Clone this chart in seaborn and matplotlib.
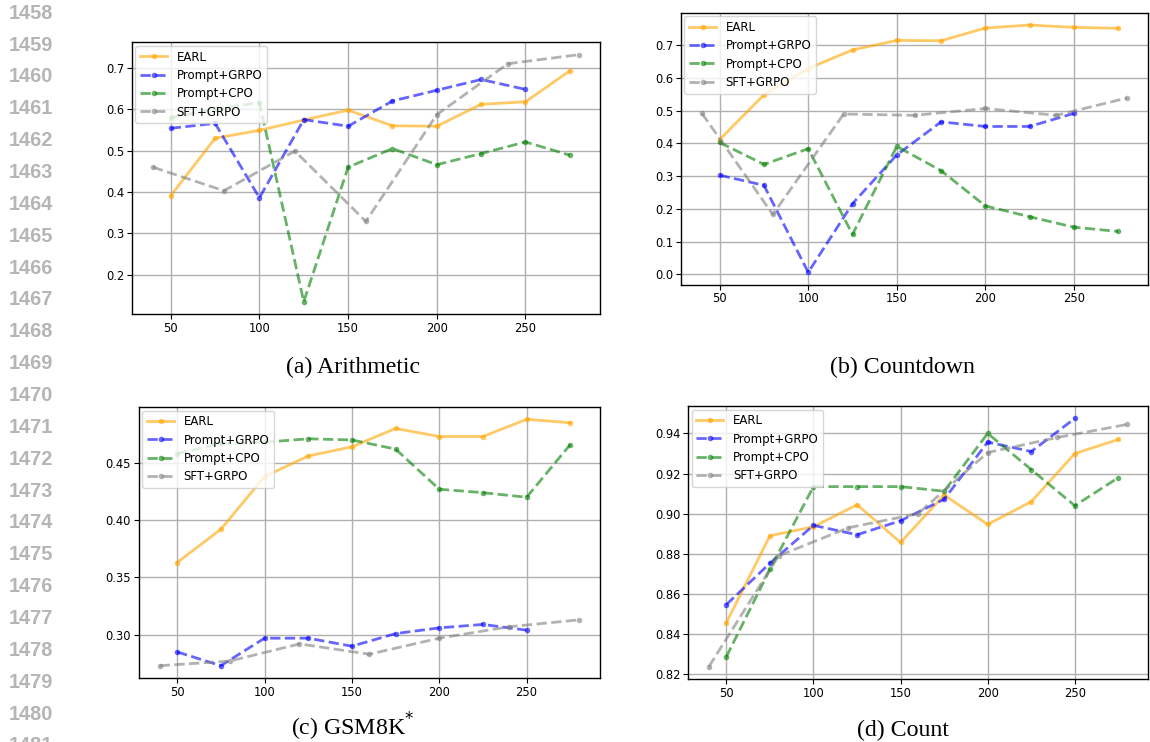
import matplotlib
matplotlib.use("Agg")
import matplotlib.pyplot as plt
import seaborn as sns
import pandas as pd

# passos de treino
x_earl = [50, 75, 100, 125, 150, 175, 200, 225, 250, 275]
x_grpo = [50, 75, 100, 125, 150, 175, 200, 225, 250]
x_cpo = [50, 75, 100, 125, 150, 175, 200, 225, 250, 275]
x_sft = [40, 80, 120, 160, 200, 240, 280]

# (a) Arithmetic
arith_earl = [0.391, 0.530, 0.549, 0.574, 0.598, 0.560, 0.559, 0.612, 0.618, 0.693]
arith_grpo = [0.554, 0.566, 0.386, 0.575, 0.559, 0.620, 0.646, 0.672, 0.648]
arith_cpo = [0.580, 0.600, 0.616, 0.135, 0.460, 0.505, 0.466, 0.493, 0.521, 0.489]
arith_sft = [0.460, 0.403, 0.499, 0.329, 0.587, 0.710, 0.732]

# (b) Countdown
count_earl = [0.412, 0.549, 0.629, 0.686, 0.715, 0.714, 0.753, 0.762, 0.755, 0.752]
count_grpo = [0.303, 0.272, 0.006, 0.216, 0.365, 0.466, 0.452, 0.452, 0.492]
count_cpo = [0.403, 0.336, 0.384, 0.122, 0.391, 0.317, 0.209, 0.176, 0.144, 0.131]
count_sft = [0.492, 0.183, 0.490, 0.486, 0.507, 0.486, 0.539]

# (c) GSM8K*
gsm_earl = [0.363, 0.392, 0.438, 0.456, 0.464, 0.480, 0.473, 0.473, 0.488, 0.485]
gsm_grpo = [0.285, 0.273, 0.297, 0.297, 0.290, 0.301, 0.306, 0.309, 0.304]
gsm_cpo = [0.458, 0.467, 0.468, 0.471, 0.470, 0.462, 0.427, 0.424, 0.420, 0.466]
gsm_sft = [0.273, 0.277, 0.292, 0.283, 0.297, 0.307, 0.313]

# (d) Count
cnt_earl = [0.8457, 0.889, 0.8935, 0.9045, 0.8857, 0.9093, 0.8947, 0.906, 0.930, 0.937]
cnt_grpo = [0.8547, 0.8753, 0.8942, 0.8895, 0.8965, 0.9072, 0.9357, 0.931, 0.9475]
cnt_cpo = [0.8287, 0.8723, 0.9135, 0.9135, 0.9135, 0.9112, 0.940, 0.922, 0.904, 0.918]
cnt_sft = [0.8238, 0.879, 0.893, 0.900, 0.9305, 0.938, 0.9445]

metodos = ["EARL", "Prompt+GRPO", "Prompt+CPO", "SFT+GRPO"]
legendas = ["(a) Arithmetic", "(b) Countdown", "(c) GSM8K$^{*}$", "(d) Count"]
yticks = [
    [0.2, 0.3, 0.4, 0.5, 0.6, 0.7],
    [0.0, 0.1, 0.2, 0.3, 0.4, 0.5, 0.6, 0.7],
    [0.30, 0.35, 0.40, 0.45],
    [0.82, 0.84, 0.86, 0.88, 0.90, 0.92, 0.94],
]
yfmt = ["%.1f", "%.1f", "%.2f", "%.2f"]

dados = [
    (arith_earl, arith_grpo, arith_cpo, arith_sft),
    (count_earl, count_grpo, count_cpo, count_sft),
    (gsm_earl, gsm_grpo, gsm_cpo, gsm_sft),
    (cnt_earl, cnt_grpo, cnt_cpo, cnt_sft),
]

cores = ["orange", "blue", "green", "gray"]
estilos = ["-", "--", "--", "--"]
xs = [x_earl, x_grpo, x_cpo, x_sft]

W, H = 1150, 742
# caixas dos eixos em pixels: esquerda, topo, direita, base
caixas = [
    (131.7, 42.3, 600, 314),
    (680.7, 12.7, 1148.3, 284.7),
    (138.7, 407, 600, 678),
    (688, 406, 1148, 679),
]
# posicao (centro x, linha de base y) das legendas
pos_legenda = [(353, 373.5), (902.5, 373.5), (352.5, 736), (902.5, 736)]


def plotar_painel(ax, series, ticks, fmt):
    for nome, x, y, cor, ls in zip(metodos, xs, series, cores, estilos):
        df = pd.DataFrame({"x": x, "y": y})
        sns.lineplot(data=df, x="x", y="y", ax=ax, color=cor, linestyle=ls,
                     marker="o", markersize=4, markeredgewidth=0,
                     linewidth=2, alpha=0.6, label=nome)
    ax.set_xticks([50, 100, 150, 200, 250])
    ax.set_yticks(ticks)
    ax.yaxis.set_major_formatter(matplotlib.ticker.FormatStrFormatter(fmt))
    ax.set_xlabel("")
    ax.set_ylabel("")
    ax.grid(True, color="#b0b0b0", linewidth=1)
    ax.tick_params(labelsize=8.3, length=3.5, pad=2)
    for s in ax.spines.values():
        s.set_linewidth(1.0)
        s.set_color("black")
    ax.legend(loc="upper left", fontsize=8.5, borderaxespad=0.3,
              handlelength=2.3, labelspacing=0.45)


fig = plt.figure(figsize=(W / 100, H / 100), dpi=100)

for i, (l, t, r, b) in enumerate(caixas):
    ax = fig.add_axes([l / W, 1 - b / H, (r - l) / W, (b - t) / H])
    plotar_painel(ax, dados[i], yticks[i], yfmt[i])
    cx, cy = pos_legenda[i]
    fig.text(cx / W, 1 - cy / H, legendas[i], ha="center", va="baseline",
             fontsize=17.2, family="Liberation Serif")

# numeros de linha da pagina
for k in range(24):
    y = 13.3 + k * 31.85
    fig.text(53.5 / W, 1 - y / H, str(1458 + k), ha="right", va="center",
             fontsize=14.4, fontweight="bold", color="#b5b5b5",
             family="Liberation Sans")

fig.savefig("out.png", dpi=100)
